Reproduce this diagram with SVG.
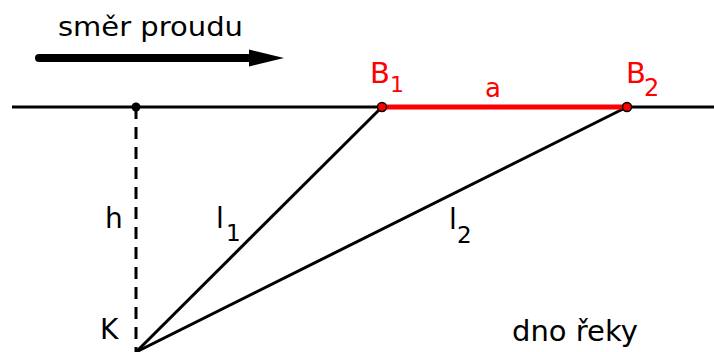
<svg xmlns="http://www.w3.org/2000/svg" width="714" height="352" viewBox="0 0 714 352">
<style>
text{font-family:"DejaVu Sans","Liberation Sans",sans-serif;font-size:28px;fill:#000}
.red{fill:#ff0000}
.ln{stroke:#000;stroke-width:3;fill:none}
.pt{fill:#ff0000;stroke:#000;stroke-width:1.5}
</style>
<rect width="714" height="352" fill="#fff"/>
<g id="flow">
<text x="58" y="36" style="font-size:27px" textLength="185" lengthAdjust="spacingAndGlyphs">směr proudu</text>
<line x1="39" y1="58" x2="254" y2="58" stroke="#000" stroke-width="8" stroke-linecap="round"/>
<polygon points="249,49.5 284,58 249,66.5" fill="#000"/>
</g>
<g id="connectors">
<line class="ln" x1="12" y1="107" x2="714" y2="107"/>
<line x1="136" y1="107" x2="136" y2="352" stroke="#000" stroke-width="3" stroke-dasharray="12,8"/>
<line class="ln" x1="136" y1="352" x2="382" y2="107"/>
<line class="ln" x1="136" y1="352" x2="627" y2="107"/>
<line x1="382" y1="107" x2="627" y2="107" stroke="#ff0000" stroke-width="5"/>
</g>
<g id="P"><circle cx="136" cy="107" r="4.5" fill="#000"/></g>
<g id="B1"><circle class="pt" cx="382" cy="107" r="4.5"/>
<text class="red" x="370" y="83" style="font-size:29px">B</text>
<text class="red" x="390" y="92" style="font-size:22px">1</text></g>
<g id="B2"><circle class="pt" cx="627" cy="107" r="4.5"/>
<text class="red" x="626" y="83" style="font-size:29px">B</text>
<text class="red" x="644" y="96" style="font-size:24px">2</text></g>
<g id="a"><text class="red" x="485" y="97" style="font-size:26px">a</text></g>
<g id="h"><text x="105" y="228">h</text></g>
<g id="l1"><text x="216" y="228">l</text><text x="226" y="241" style="font-size:23px">1</text></g>
<g id="l2"><text x="449" y="229">l</text><text x="457" y="243" style="font-size:23px">2</text></g>
<g id="K"><text x="100" y="339">K</text></g>
<g id="bed"><text x="512" y="341" style="font-size:29px">dno řeky</text></g>
</svg>
